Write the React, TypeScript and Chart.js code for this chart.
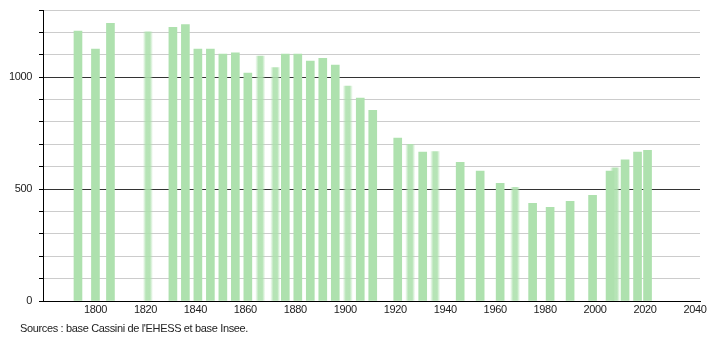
import React, { useEffect, useRef } from "react";
import { Chart, registerables } from "chart.js";

Chart.register(...registerables);

// Census years with exact counts
const years: number[] = [1793, 1800, 1806, 1831, 1836, 1841, 1846, 1851, 1856, 1861, 1876, 1881, 1886, 1891, 1896, 1906, 1911, 1921, 1931, 1946, 1954, 1962, 1975, 1982, 1990, 1999, 2006, 2012, 2017, 2021];
const population: number[] = [1206, 1125, 1241, 1223, 1235, 1125, 1125, 1103, 1109, 1018, 1103, 1103, 1072, 1084, 1054, 906, 852, 728, 665, 619, 580, 526, 436, 419, 445, 472, 580, 631, 665, 673];

// Years drawn with soft (blurred) edges
const softYears: number[] = [1821, 1866, 1872, 1901, 1926, 1936, 1968, 2008];
const softPopulation: number[] = [1203, 1094, 1043, 960, 700, 668, 508, 595];

const xTickValues: number[] = [1800, 1820, 1840, 1860, 1880, 1900, 1920, 1940, 1960, 1980, 2000, 2020, 2040];
const sourceText = "Sources : base Cassini de l'EHESS et base Insee.";

const BAR = "rgb(174,225,174)";
const FONT = "'Liberation Sans', Arial, sans-serif";

const spacingPlugin = {
  id: "letterSpacing",
  beforeDraw(chart: any) {
    try {
      (chart.ctx as any).letterSpacing = "-0.35px";
    } catch (e) {}
  },
};

export default function App() {
  const ref = useRef<HTMLCanvasElement | null>(null);

  useEffect(() => {
    document.body.style.margin = "0";
    const canvas = ref.current;
    if (!canvas) return;

    const chart = new Chart(canvas, {
      type: "bar",
      data: {
        datasets: [
          {
            data: years.map((y, i) => ({ x: y, y: population[i] })),
            backgroundColor: BAR,
            borderWidth: 0,
            barThickness: 8,
            grouped: false,
          } as any,
          {
            data: softYears.map((y, i) => ({ x: y, y: softPopulation[i] })),
            backgroundColor: (ctx: any) => {
              const chart = ctx.chart;
              const xs = chart.scales && chart.scales.x;
              if (!xs || ctx.type !== "data" || !ctx.raw) return BAR;
              const px = xs.getPixelForValue(ctx.raw.x);
              if (!isFinite(px)) return BAR;
              const g = chart.ctx.createLinearGradient(px - 5, 0, px + 5, 0);
              g.addColorStop(0, "rgba(174,225,174,0)");
              g.addColorStop(0.3, "rgba(174,225,174,0.9)");
              g.addColorStop(0.7, "rgba(174,225,174,0.9)");
              g.addColorStop(1, "rgba(174,225,174,0)");
              return g;
            },
            borderWidth: 0,
            barThickness: 10,
            grouped: false,
          } as any,
        ],
      },
      plugins: [spacingPlugin],
      options: {
        animation: false,
        responsive: false,
        maintainAspectRatio: false,
        layout: { padding: { top: 10, right: 10, left: 0, bottom: 0 } },
        plugins: {
          legend: { display: false },
          tooltip: { enabled: false },
          title: { display: false },
        },
        scales: {
          x: {
            type: "linear",
            offset: false,
            min: 1779,
            max: 2042,
            afterBuildTicks: (scale: any) => {
              scale.ticks = xTickValues.map((v) => ({ value: v }));
            },
            afterFit: (scale: any) => {
              scale.height = 39;
              scale.paddingLeft = 0;
              scale.paddingRight = 0;
            },
            grid: { display: false, drawTicks: false, offset: false },
            border: { display: true, color: "#000", width: 1 },
            ticks: {
              padding: 2,
              color: "#222",
              font: { family: FONT, size: 11 },
              maxRotation: 0,
              autoSkip: false,
              callback: (v: any) => String(v),
            },
          },
          y: {
            type: "linear",
            min: 0,
            max: 1300,
            afterFit: (scale: any) => {
              scale.width = 43;
              scale.paddingTop = 0;
              scale.paddingBottom = 0;
            },
            grid: {
              color: (ctx: any) =>
                ctx.tick && ctx.tick.value % 500 === 0 ? "#333" : "#cccccc",
              tickColor: "#000",
              tickLength: 4,
              drawTicks: true,
            },
            border: { display: true, color: "#000", width: 1 },
            ticks: {
              stepSize: 100,
              padding: 7,
              color: "#222",
              font: { family: FONT, size: 11 },
              autoSkip: false,
              callback: (v: any) => (Number(v) % 500 === 0 ? String(v) : ""),
            },
          },
        },
      } as any,
    });

    return () => chart.destroy();
  }, []);

  return (
    <div style={{ position: "relative", width: 710, height: 340 }}>
      <canvas ref={ref} width={710} height={340} style={{ display: "block" }} />
      <div
        style={{
          position: "absolute",
          left: 20,
          top: 321,
          fontFamily: FONT,
          fontSize: 11,
          letterSpacing: "-0.35px",
          color: "#222",
          whiteSpace: "nowrap",
          lineHeight: "14px",
        }}
      >
        {sourceText}
      </div>
    </div>
  );
}
